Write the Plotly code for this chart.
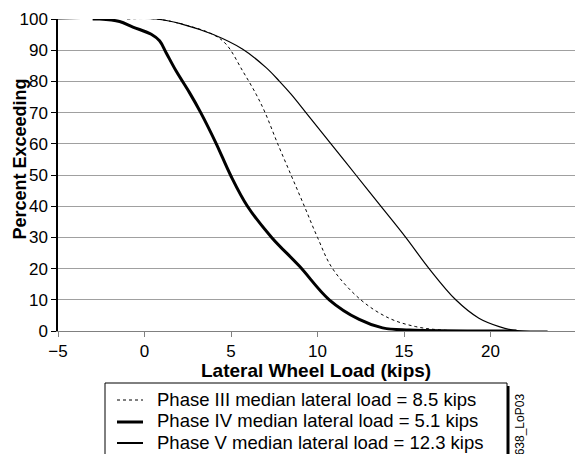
import plotly.graph_objects as go

# Phase III (dotted)
p3_x = [-1, 0.68, 2.21, 3.94, 4.72, 5.68, 6.45, 6.97, 7.7, 8.47, 9.24, 10.0, 10.87, 12.5, 14.14, 15.68, 17.2, 19.5]
p3_y = [100, 100, 98.3, 95.1, 91.9, 83.3, 75.9, 70, 60, 50, 40, 30, 20, 10, 4.1, 1.4, 0.3, 0]
# Phase IV (thick)
p4_x = [-3, -2.59, -1.44, -0.67, 0.39, 0.87, 1.25, 1.83, 2.6, 3.25, 4.15, 4.97, 5.95, 7.35, 8.95, 10.68, 12.41, 13.76, 15.3, 21.5]
p4_y = [100, 100, 99.2, 97.4, 95.1, 93, 89.2, 83.3, 76.4, 70, 60, 50, 40, 30, 20.8, 10, 3.7, 1.0, 0.3, 0]
# Phase V (thin)
p5_x = [-5, 0.68, 2.21, 3.94, 5.68, 7.03, 7.79, 8.47, 9.33, 10.78, 12.22, 13.66, 15.1, 16.45, 17.99, 19.33, 20.5, 21.3, 23.3]
p5_y = [100, 100, 98.3, 95.1, 90.3, 84.4, 80.1, 75.9, 70, 60, 50, 40, 30, 20, 10, 4.1, 1.4, 0.3, 0]

x_ticks = [-5, 0, 5, 10, 15, 20, 25]
y_ticks = [0, 10, 20, 30, 40, 50, 60, 70, 80, 90, 100]

names = ["Phase III median lateral load = 8.5 kips",
         "Phase IV median lateral load = 5.1 kips",
         "Phase V median lateral load = 12.3 kips"]

FONT = "Liberation Sans, Arial, sans-serif"

# figure geometry (page body has an 8px margin)
W, H = 575, 480
L, R, T, B = 50, 6, 11, 157
PW, PH = W - L - R, H - T - B


def px(fx):
    return (fx - L) / PW


def py(fy):
    return (H - B - fy) / PH


styles = [dict(color="black", width=1, dash="dot"),
          dict(color="black", width=3),
          dict(color="black", width=1.2)]

fig = go.Figure()
for xs, ys, st, nm in zip([p3_x, p4_x, p5_x], [p3_y, p4_y, p5_y], styles, names):
    fig.add_trace(go.Scatter(x=xs, y=ys, mode="lines", name=nm, showlegend=False,
                             line=dict(shape="spline", smoothing=1.0, **st)))

fig.update_layout(
    width=W, height=H,
    margin=dict(l=L, r=R, t=T, b=B, autoexpand=False),
    paper_bgcolor="white", plot_bgcolor="white",
    font=dict(family=FONT, color="black", size=17),
    showlegend=False,
)
fig.update_xaxes(range=[-5, 25], tickmode="array", tickvals=x_ticks,
                 ticks="outside", ticklen=5, tickcolor="#808080",
                 showline=True, linecolor="#808080", linewidth=1,
                 showgrid=False, zeroline=False, automargin=False,
                 tickfont=dict(size=17))
fig.update_yaxes(range=[0, 100], tickmode="array", tickvals=y_ticks,
                 ticks="outside", ticklen=5, tickcolor="black",
                 showline=True, linecolor="black", linewidth=1.5, mirror=True,
                 showgrid=True, gridcolor="#a0a0a0", gridwidth=1, zeroline=False, automargin=False,
                 tickfont=dict(size=17))

# axis titles
fig.add_annotation(text="<b>Lateral Wheel Load (kips)</b>", xref="paper", yref="paper",
                   x=px(307.7), y=py(362), xanchor="center", yanchor="middle",
                   showarrow=False, font=dict(size=19, family=FONT))
fig.add_annotation(text="<b>Percent Exceeding</b>", xref="paper", yref="paper",
                   x=px(11.5), y=py(151), xanchor="center", yanchor="middle", textangle=-90,
                   showarrow=False, font=dict(size=18, family=FONT))

# legend box (extends past the bottom of the visible window)
fig.add_shape(type="rect", xref="paper", yref="paper", x0=px(499), x1=px(501.5), y0=py(378), y1=py(478),
              line=dict(width=0), fillcolor="black")
fig.add_shape(type="rect", xref="paper", yref="paper", x0=px(97), x1=px(499), y0=py(375), y1=py(478),
              line=dict(color="black", width=1), fillcolor="white")
rows = [392, 414, 435]
leg_styles = [dict(color="black", width=1, dash="dot"),
              dict(color="black", width=3),
              dict(color="black", width=2)]
for fy, st, nm in zip(rows, leg_styles, names):
    fig.add_shape(type="line", xref="paper", yref="paper", x0=px(109), x1=px(135),
                  y0=py(fy), y1=py(fy), line=st)
    fig.add_annotation(text=nm, xref="paper", yref="paper", x=px(147), y=py(fy - 1),
                       xanchor="left", yanchor="middle", showarrow=False,
                       font=dict(size=18.5, family=FONT))

fig.add_annotation(text="5638_LoP03", xref="paper", yref="paper",
                   x=px(512), y=py(384), xanchor="center", yanchor="top",
                   textangle=-90, showarrow=False, font=dict(size=12, family=FONT))

fig.write_html("out.html")
